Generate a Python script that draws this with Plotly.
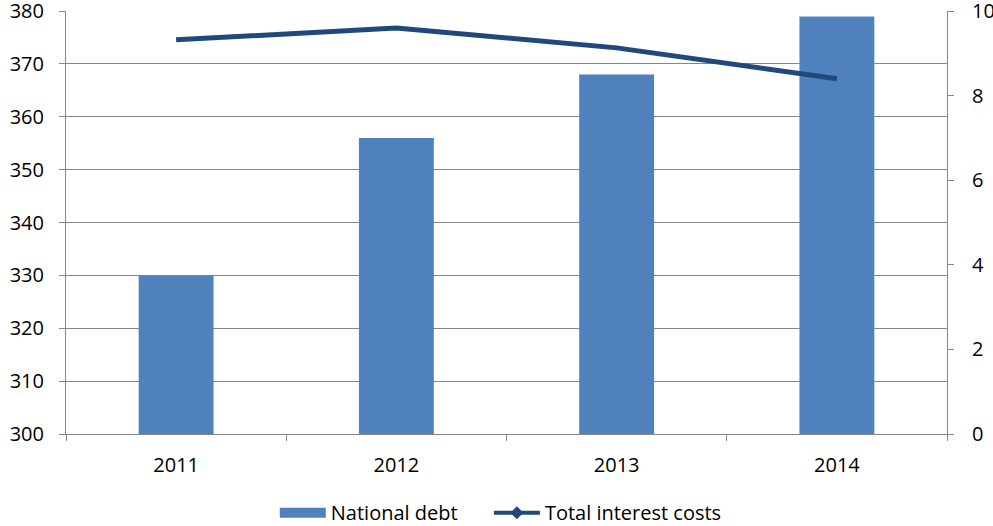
import plotly.graph_objects as go

years = ["2011", "2012", "2013", "2014"]
national_debt = [330, 356, 368, 379]
interest_costs = [9.32, 9.6, 9.13, 8.4]

grid = "#868686"
font = dict(family="Open Sans, Liberation Sans, sans-serif", size=20, color="#000000")

fig = go.Figure()
fig.add_trace(go.Bar(x=years, y=national_debt, name="National debt",
                     marker=dict(color="#4F81BD", line=dict(width=0)), yaxis="y",
                     showlegend=False))
fig.add_trace(go.Scatter(x=years, y=interest_costs, name="Total interest costs",
                         mode="lines", line=dict(color="#1F497D", width=5),
                         yaxis="y2", showlegend=False))
# legend-only entries
fig.add_trace(go.Scatter(x=[None], y=[None], name="National debt",
                         mode="lines", line=dict(color="#4F81BD", width=16),
                         yaxis="y", legend="legend"))
fig.add_trace(go.Scatter(x=[None], y=[None], name="Total interest costs",
                         mode="lines+markers", line=dict(color="#1F497D", width=4),
                         marker=dict(symbol="diamond", size=10, color="#1F497D"),
                         yaxis="y2", legend="legend2"))

leg_common = dict(orientation="h", xanchor="left", y=-0.186, yanchor="middle",
                  font=dict(size=20), itemwidth=46, itemsizing="trace",
                  bgcolor="rgba(0,0,0,0)")

fig.update_layout(
    width=993, height=526,
    margin=dict(l=66, r=46, t=11, b=92, autoexpand=False),
    plot_bgcolor="white", paper_bgcolor="white",
    font=font,
    bargap=0.66,
    showlegend=True,
    legend=dict(x=0.237, **leg_common),
    legend2=dict(x=0.480, **leg_common),
    xaxis=dict(type="category", tickson="boundaries", ticks="outside", ticklen=6,
               tickcolor=grid, showline=True, linecolor=grid, linewidth=1,
               showgrid=False, tickfont=dict(size=20), ticklabelstandoff=13,
               automargin=False),
    yaxis=dict(range=[300, 380.02], tickvals=[300, 310, 320, 330, 340, 350, 360, 370, 380],
               ticks="outside", ticklen=6, tickcolor=grid,
               showline=True, linecolor=grid, gridcolor=grid, gridwidth=1,
               zeroline=False, tickfont=dict(size=20), ticklabelstandoff=11,
               automargin=False, ticklabeloverflow="allow"),
    yaxis2=dict(range=[0, 10.002], tickvals=[0, 2, 4, 6, 8, 10], overlaying="y",
                side="right", ticks="outside",
                ticklen=6, tickcolor=grid, showline=True, linecolor=grid,
                showgrid=False, zeroline=False, tickfont=dict(size=20),
                ticklabelstandoff=14, automargin=False, ticklabeloverflow="allow"),
)

fig.write_html("out.html", config={"displayModeBar": False},
               post_script="document.body.style.margin='0';")
